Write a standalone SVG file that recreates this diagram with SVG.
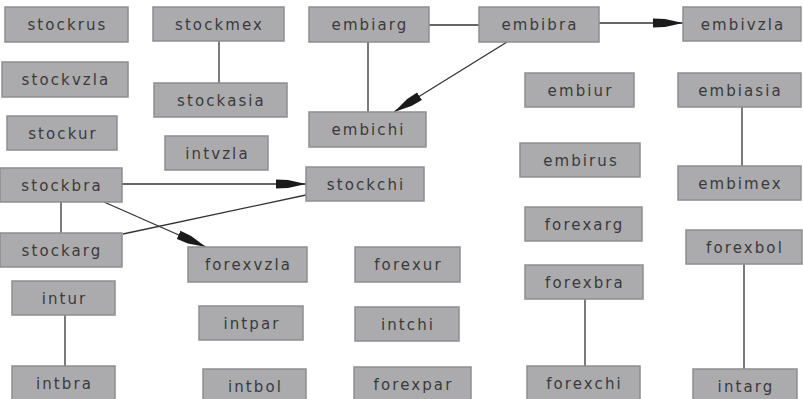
<svg xmlns="http://www.w3.org/2000/svg" width="803" height="399" viewBox="0 0 803 399">
<style>
.n rect{fill:#ababae;stroke:#8e8e90;stroke-width:1.5}
.n text{font-family:"DejaVu Sans",Verdana,sans-serif;font-size:15px;fill:#3a3a3a;text-anchor:middle;letter-spacing:2.1px}
.e path{fill:none;stroke:#333;stroke-width:1.3}
</style>
<defs>
<marker id="ah" viewBox="0 -5 30 10" refX="30" refY="0" markerWidth="30" markerHeight="10" markerUnits="userSpaceOnUse" orient="auto">
<path d="M0,-4.5 L12,-4 L30,0 L12,4 L0,4.5 Z" fill="#1a1a1a"/>
</marker>
</defs>
<rect width="803" height="399" fill="#fff"/>
<g id="connectors" class="e">
<path d="M219,41 V83"/>
<path d="M429,25 H479"/>
<path d="M368,42 V112"/>
<path d="M507,42 L394,112" marker-end="url(#ah)"/>
<path d="M599,23 H683" marker-end="url(#ah)"/>
<path d="M742,107 V166"/>
<path d="M122,184 H306" marker-end="url(#ah)"/>
<path d="M61,202 V233"/>
<path d="M123,234 L306,195"/>
<path d="M104,202 L206,247" marker-end="url(#ah)"/>
<path d="M65,315 V366"/>
<path d="M585,299 V366"/>
<path d="M744,264 V369"/>
</g>
<g id="stockrus" class="n"><rect x="5" y="7" width="123" height="35"/><text x="67.5" y="30">stockrus</text></g>
<g id="stockmex" class="n"><rect x="153" y="7" width="131" height="34"/><text x="219.5" y="29.5">stockmex</text></g>
<g id="stockvzla" class="n"><rect x="2" y="62" width="126" height="35"/><text x="66" y="85">stockvzla</text></g>
<g id="stockasia" class="n"><rect x="154" y="83" width="133" height="34"/><text x="221.5" y="105.5">stockasia</text></g>
<g id="stockur" class="n"><rect x="7" y="116" width="110" height="34"/><text x="63" y="138.5">stockur</text></g>
<g id="intvzla" class="n"><rect x="165" y="136" width="103" height="34"/><text x="217.5" y="158.5">intvzla</text></g>
<g id="stockbra" class="n"><rect x="0" y="168" width="122" height="34"/><text x="62" y="190.5">stockbra</text></g>
<g id="stockarg" class="n"><rect x="0" y="233" width="122" height="34"/><text x="62" y="255.5">stockarg</text></g>
<g id="embiarg" class="n"><rect x="309" y="7" width="120" height="35"/><text x="370" y="30">embiarg</text></g>
<g id="embibra" class="n"><rect x="479" y="7" width="120" height="35"/><text x="540" y="30">embibra</text></g>
<g id="embivzla" class="n"><rect x="683" y="7" width="118" height="34"/><text x="743" y="29.5">embivzla</text></g>
<g id="embichi" class="n"><rect x="309" y="112" width="117" height="35"/><text x="368.5" y="135">embichi</text></g>
<g id="stockchi" class="n"><rect x="306" y="167" width="118" height="34"/><text x="366" y="189.5">stockchi</text></g>
<g id="embiur" class="n"><rect x="525" y="73" width="109" height="34"/><text x="580.5" y="95.5">embiur</text></g>
<g id="embirus" class="n"><rect x="520" y="143" width="120" height="34"/><text x="581" y="165.5">embirus</text></g>
<g id="embiasia" class="n"><rect x="678" y="73" width="123" height="34"/><text x="740.5" y="95.5">embiasia</text></g>
<g id="embimex" class="n"><rect x="678" y="166" width="123" height="34"/><text x="740.5" y="188.5">embimex</text></g>
<g id="forexvzla" class="n"><rect x="188" y="247" width="119" height="35"/><text x="248.5" y="270">forexvzla</text></g>
<g id="forexur" class="n"><rect x="355" y="247" width="105" height="35"/><text x="408.5" y="270">forexur</text></g>
<g id="intur" class="n"><rect x="12" y="281" width="103" height="34"/><text x="64.5" y="303.5">intur</text></g>
<g id="intpar" class="n"><rect x="199" y="306" width="104" height="34"/><text x="252" y="328.5">intpar</text></g>
<g id="intchi" class="n"><rect x="355" y="307" width="104" height="34"/><text x="408" y="329.5">intchi</text></g>
<g id="forexarg" class="n"><rect x="525" y="207" width="117" height="34"/><text x="584.5" y="229.5">forexarg</text></g>
<g id="forexbra" class="n"><rect x="525" y="265" width="118" height="34"/><text x="585" y="287.5">forexbra</text></g>
<g id="forexbol" class="n"><rect x="686" y="230" width="116" height="34"/><text x="745" y="252.5">forexbol</text></g>
<g id="intbra" class="n"><rect x="12" y="366" width="103" height="35"/><text x="64.5" y="389">intbra</text></g>
<g id="intbol" class="n"><rect x="203" y="369" width="103" height="33"/><text x="255.5" y="391.5">intbol</text></g>
<g id="forexpar" class="n"><rect x="354" y="367" width="117" height="34"/><text x="413.5" y="389.5">forexpar</text></g>
<g id="forexchi" class="n"><rect x="527" y="366" width="113" height="34"/><text x="584.5" y="388.5">forexchi</text></g>
<g id="intarg" class="n"><rect x="693" y="369" width="104" height="33"/><text x="746" y="391.5">intarg</text></g>
</svg>
